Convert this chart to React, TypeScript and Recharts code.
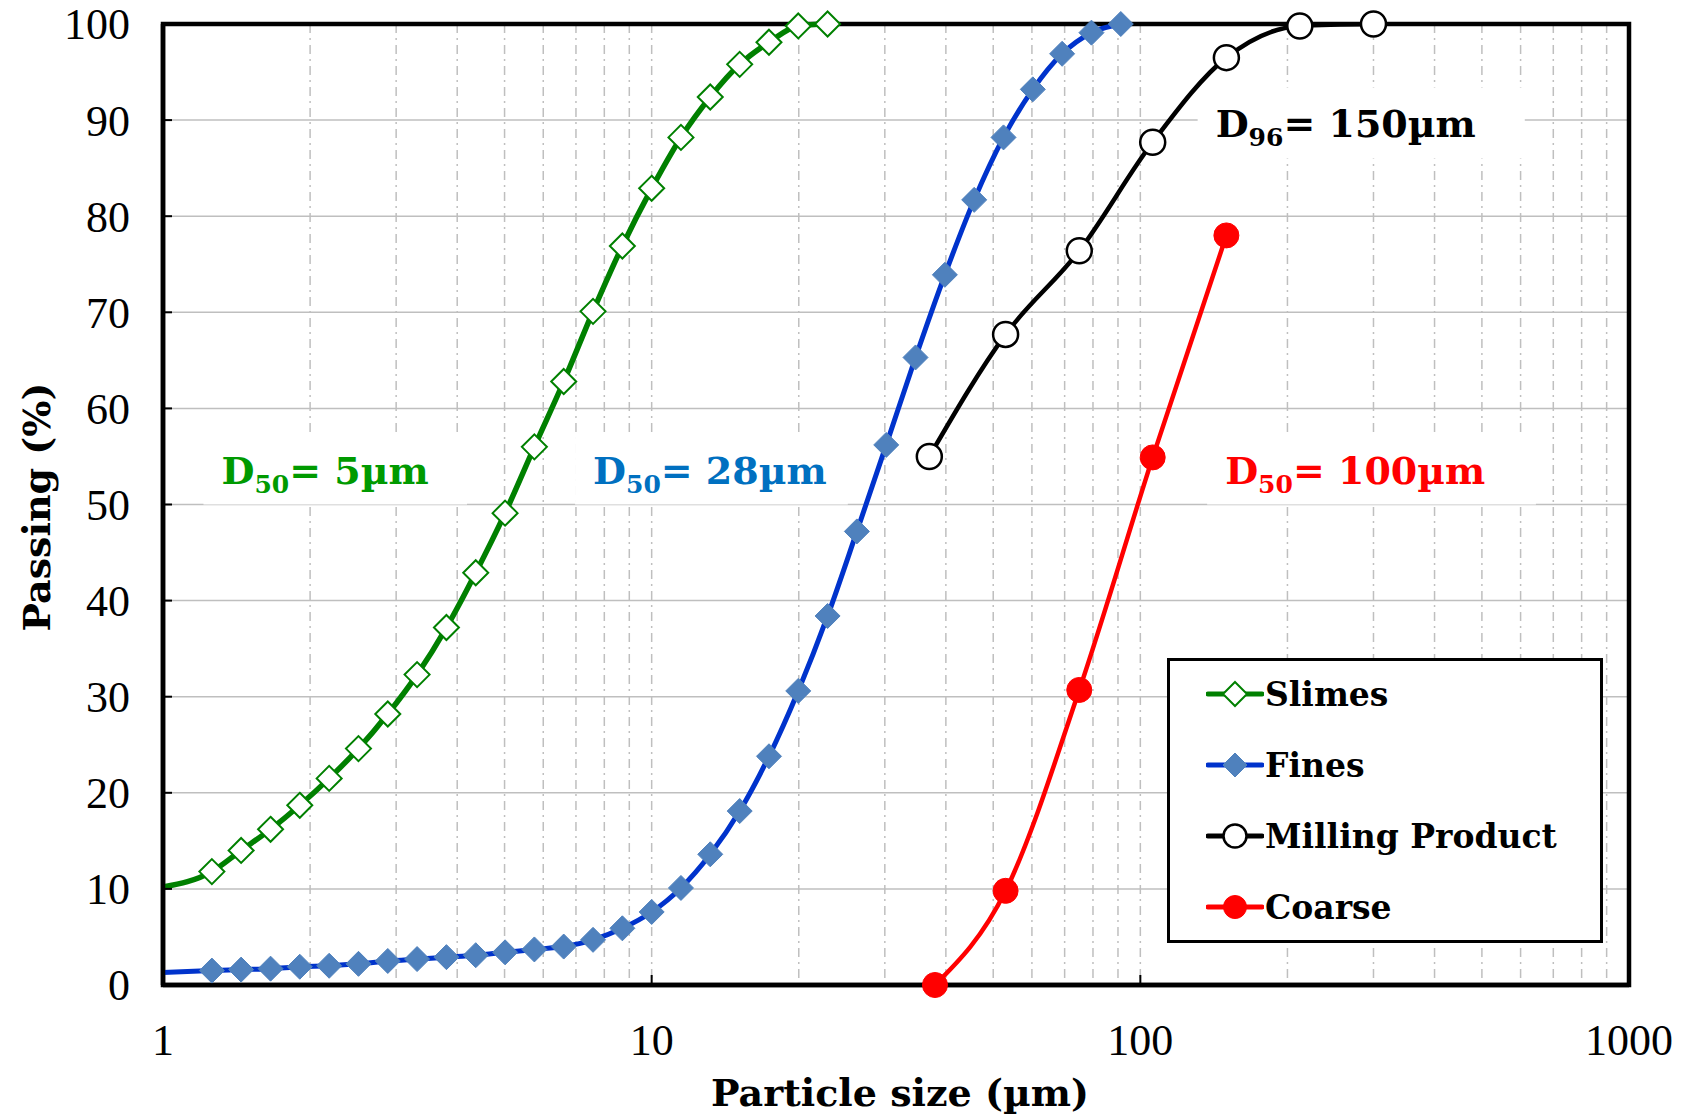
import React from "react";
import {
  LineChart,
  Line,
  XAxis,
  YAxis,
  CartesianGrid,
  ReferenceArea,
  Legend,
  Label,
} from "recharts";

// laser sizer bins (µm) and cumulative passing (%)
const slimesSize = [1, 1.259, 1.445, 1.66, 1.905, 2.188, 2.512, 2.884, 3.311, 3.802, 4.365, 5.012, 5.754, 6.607, 7.586, 8.71, 10.0, 11.48, 13.18, 15.14, 17.38, 19.95, 22.91];
const slimesPassing = [10.2, 11.8, 14.0, 16.2, 18.7, 21.5, 24.6, 28.2, 32.3, 37.2, 42.9, 49.1, 56.0, 62.8, 70.1, 76.9, 82.9, 88.2, 92.4, 95.8, 98.1, 99.8, 100];

const finesSize = [1, 1.259, 1.445, 1.66, 1.905, 2.188, 2.512, 2.884, 3.311, 3.802, 4.365, 5.012, 5.754, 6.607, 7.586, 8.71, 10.0, 11.48, 13.18, 15.14, 17.38, 19.95, 22.91, 26.3, 30.2, 34.67, 39.81, 45.71, 52.48, 60.26, 69.18, 79.43, 91.2];
const finesPassing = [1.3, 1.5, 1.6, 1.7, 1.9, 2.0, 2.2, 2.5, 2.7, 2.9, 3.1, 3.4, 3.7, 4.0, 4.7, 5.9, 7.6, 10.1, 13.6, 18.1, 23.8, 30.6, 38.4, 47.2, 56.2, 65.3, 73.9, 81.7, 88.2, 93.2, 96.9, 99.1, 100];

// sieve sizes (µm)
const millSize = [37, 53, 75, 106, 150, 212, 300];
const millPassing = [55.0, 67.7, 76.4, 87.7, 96.5, 99.8, 100];

const coarseSize = [38, 53, 75, 106, 150];
const coarsePassing = [0, 9.8, 30.7, 54.9, 78.0];

const xTicks = [1, 2, 3, 4, 5, 6, 7, 8, 9, 10, 20, 30, 40, 50, 60, 70, 80, 90, 100, 200, 300, 400, 500, 600, 700, 800, 900, 1000];
const xLabels = [1, 10, 100, 1000];
const yTicks = [0, 10, 20, 30, 40, 50, 60, 70, 80, 90, 100];

const annotations = [
  { sub: "50", rest: "= 5µm", color: "#009A00", x1: 1.21, x2: 4.19, y1: 50, y2: 57.2 },
  { sub: "50", rest: "= 28µm", color: "#0070C0", x1: 6.97, x2: 25.2, y1: 50, y2: 57.2 },
  { sub: "50", rest: "= 100µm", color: "#FF0000", x1: 137, x2: 645, y1: 50, y2: 57.2 },
  { sub: "96", rest: "= 150µm", color: "#000000", x1: 131, x2: 612, y1: 86.0, y2: 93.4 },
];

const toRows = (sizes: number[], vals: number[]) => sizes.map((size, i) => ({ size, passing: vals[i] }));

const serif = '"Liberation Serif", serif';
const bold = '"DejaVu Serif", serif';

const diamondDot = (fill: string, stroke: string, sw: number) => (props: any) => {
  const { cx, cy, payload, index } = props;
  if (payload.size <= 1) return <g key={index} />;
  return (
    <path
      key={index}
      d={`M${cx},${cy - 12.5}L${cx + 12.5},${cy}L${cx},${cy + 12.5}L${cx - 12.5},${cy}Z`}
      fill={fill}
      stroke={stroke}
      strokeWidth={sw}
    />
  );
};

const circleDot = (fill: string, stroke: string, sw: number) => (props: any) => {
  const { cx, cy, index } = props;
  return <circle key={index} cx={cx} cy={cy} r={12.5} fill={fill} stroke={stroke} strokeWidth={sw} />;
};

const series = [
  { name: "Slimes", rows: toRows(slimesSize, slimesPassing), line: "#008000", width: 5.5, marker: "diamond", fill: "#fff", mstroke: "#008000", msw: 2 },
  { name: "Fines", rows: toRows(finesSize, finesPassing), line: "#0033CC", width: 5, marker: "diamond", fill: "#4F81BD", mstroke: "#4F81BD", msw: 1 },
  { name: "Milling Product", rows: toRows(millSize, millPassing), line: "#000000", width: 4.5, marker: "circle", fill: "#fff", mstroke: "#000", msw: 2.5 },
  { name: "Coarse", rows: toRows(coarseSize, coarsePassing), line: "#FF0000", width: 4.5, marker: "circle", fill: "#FF0000", mstroke: "#FF0000", msw: 1 },
];

const XTick = (props: any) => {
  const { x, y, payload } = props;
  if (!xLabels.includes(payload.value)) return <g />;
  return (
    <g>
      <line x1={x} x2={x} y1={985} y2={975} stroke="#000" strokeWidth={2} />
      <text x={x} y={y} textAnchor="middle" fontFamily={serif} fontSize={44} fill="#000">
        {payload.value}
      </text>
    </g>
  );
};

const YTick = (props: any) => {
  const { x, y, payload } = props;
  return (
    <g>
      <line x1={163} x2={172} y1={y} y2={y} stroke="#000" strokeWidth={2} />
      <text x={x} y={y} dy="0.35em" textAnchor="end" fontFamily={serif} fontSize={44} fill="#000">
        {payload.value}
      </text>
    </g>
  );
};

const annotLabel = (a: any) => (props: any) => {
  const { x, y, height } = props.viewBox;
  return (
    <text x={x + 18} y={y + height * 0.7} fontFamily={bold} fontWeight="bold" fontSize={38} fill={a.color}>
      <tspan>D</tspan>
      <tspan fontSize={25} dy={9}>{a.sub}</tspan>
      <tspan dy={-9}>{a.rest}</tspan>
    </text>
  );
};

const LegendBox = () => (
  <div
    style={{
      width: 436,
      height: 285,
      border: "3px solid #000",
      boxSizing: "border-box",
      background: "#fff",
      position: "relative",
    }}
  >
    {series.map((s, i) => (
      <div
        key={s.name}
        style={{ position: "absolute", left: 36, top: 33 + i * 71 - 22, height: 44, display: "flex", alignItems: "center" }}
      >
        <svg width={58} height={44}>
          <line x1={2} x2={56} y1={22} y2={22} stroke={s.line} strokeWidth={5} strokeLinecap="round" />
          {s.marker === "diamond" ? (
            <path d="M29,10L41,22L29,34L17,22Z" fill={s.fill} stroke={s.mstroke} strokeWidth={s.msw} />
          ) : (
            <circle cx={29} cy={22} r={11.5} fill={s.fill} stroke={s.mstroke} strokeWidth={s.msw} />
          )}
        </svg>
        <span style={{ fontFamily: bold, fontWeight: "bold", fontSize: 33, marginLeft: 1, color: "#000" }}>{s.name}</span>
      </div>
    ))}
  </div>
);

export default function App() {
  return (
    <div style={{ position: "absolute", left: 0, top: 0, background: "#fff" }}>
      <LineChart width={1684} height={1116} margin={{ top: 24, right: 55, bottom: 0, left: 0 }}>
        <CartesianGrid horizontal vertical={false} stroke="#BFBFBF" strokeWidth={1.5} />
        <CartesianGrid horizontal={false} stroke="#BFBFBF" strokeWidth={1.5} strokeDasharray="9 5 2 5" />
        <XAxis
          type="number"
          dataKey="size"
          scale="log"
          domain={[1, 1000]}
          ticks={xTicks}
          interval={0}
          height={131}
          tickSize={0}
          tickMargin={70}
          tickLine={false}
          axisLine={{ stroke: "#000", strokeWidth: 4.5 }}
          tick={<XTick />}
        >
          <Label
            content={(p: any) => (
              <text x={900} y={1106} textAnchor="middle" fontFamily={bold} fontWeight="bold" fontSize={38} fill="#000">
                Particle size (µm)
              </text>
            )}
          />
        </XAxis>
        <YAxis
          type="number"
          domain={[0, 100]}
          ticks={yTicks}
          interval={0}
          width={163}
          tickSize={0}
          tickMargin={33}
          tickLine={false}
          axisLine={{ stroke: "#000", strokeWidth: 4.5 }}
          tick={<YTick />}
        >
          <Label
            content={(p: any) => (
              <text
                x={50}
                y={507}
                transform="rotate(-90, 50, 507)"
                textAnchor="middle"
                fontFamily={bold}
                fontWeight="bold"
                fontSize={38}
                fill="#000"
              >
                Passing (%)
              </text>
            )}
          />
        </YAxis>
        <ReferenceArea x1={1} x2={1000} y1={0} y2={100} fill="none" stroke="#000" strokeWidth={4.5} />
        {annotations.map((a, i) => (
          <ReferenceArea
            key={i}
            x1={a.x1}
            x2={a.x2}
            y1={a.y1}
            y2={a.y2}
            fill="#fff"
            fillOpacity={1}
            stroke="none"
            label={{ content: annotLabel(a) }}
          />
        ))}
        {series.map((s) => (
          <Line
            key={s.name}
            data={s.rows}
            dataKey="passing"
            name={s.name}
            type="monotone"
            stroke={s.line}
            strokeWidth={s.width}
            dot={s.marker === "diamond" ? diamondDot(s.fill, s.mstroke, s.msw) : circleDot(s.fill, s.mstroke, s.msw)}
            activeDot={false}
            isAnimationActive={false}
          />
        ))}
        <Legend
          layout="vertical"
          align="center"
          verticalAlign="middle"
          wrapperStyle={{ left: 1167, top: 658, width: 436, height: 285 }}
          content={() => <LegendBox />}
        />
      </LineChart>
    </div>
  );
}
